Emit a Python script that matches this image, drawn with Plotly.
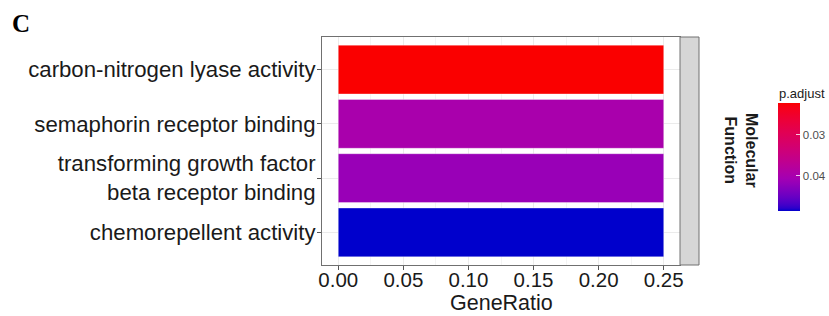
import numpy as np
import plotly.graph_objects as go

# ---- data ----
terms = [
    "carbon-nitrogen lyase activity",
    "semaphorin receptor binding",
    "transforming growth factor<br>beta receptor binding",
    "chemorepellent activity",
]
gene_ratio = [0.25, 0.25, 0.25, 0.25]
p_adjust = [0.0222, 0.0400, 0.0416, 0.0487]
x_ticks = [0.00, 0.05, 0.10, 0.15, 0.20, 0.25]
cb_ticks = [0.03, 0.04]
facet_label = "Molecular<br>Function"

# ---- colour scale (Lab interpolation red -> blue, like ggplot) ----
def srgb_to_lab(rgb):
    c = np.array(rgb, float) / 255.0
    lin = np.where(c <= 0.04045, c / 12.92, ((c + 0.055) / 1.055) ** 2.4)
    M = np.array([[0.4124, 0.3576, 0.1805], [0.2126, 0.7152, 0.0722], [0.0193, 0.1192, 0.9505]])
    xyz = M @ lin / np.array([0.9505, 1.0, 1.089])
    f = np.where(xyz > 0.008856, np.cbrt(xyz), 7.787 * xyz + 16 / 116)
    return np.array([116 * f[1] - 16, 500 * (f[0] - f[1]), 200 * (f[1] - f[2])])

def lab_to_srgb(lab, k=1.0):
    L, a, b = lab
    fy = (L + 16) / 116
    fx = fy + a / 500
    fz = fy - b / 200
    f = np.array([fx, fy, fz])
    xyz = np.where(f ** 3 > 0.008856, f ** 3, (f - 16 / 116) / 7.787) * np.array([0.9505, 1.0, 1.089])
    Mi = np.array([[3.2406, -1.5372, -0.4986], [-0.9689, 1.8758, 0.0415], [0.0557, -0.2040, 1.0570]])
    lin = np.clip(Mi @ xyz, 0, 1)
    c = np.where(lin <= 0.0031308, 12.92 * lin, 1.055 * lin ** (1 / 2.4) - 0.055)
    r, g, bb = (np.clip(c * k, 0, 1) * 255).round().astype(int)
    return f"rgb({r},{g},{bb})"

red_lab = srgb_to_lab((255, 0, 0))
blue_lab = srgb_to_lab((0, 0, 255))

def shade(t_from_red):
    # slight darkening seen towards the blue end of the picture
    if t_from_red < 0.7:
        return 0.98
    return 0.98 - (t_from_red - 0.7) / 0.3 * 0.18

# colour axis uses -p so that red sits at the top of the colour bar
stops = np.linspace(0, 1, 41)
colorscale = []
for s in stops:
    t = 1 - s  # distance from red end
    lab = red_lab + (blue_lab - red_lab) * t
    colorscale.append([float(s), lab_to_srgb(lab, shade(t))])

W, H = 829, 316
L_M, R_M, T_M, B_M = 322, 829 - 680, 37, 316 - 265
PW = W - L_M - R_M
PH = H - T_M - B_M

def px(xpix):
    return (xpix - L_M) / PW

def py(ypix):
    return (H - B_M - ypix) / PH

fig = go.Figure()
fig.add_trace(go.Bar(
    x=gene_ratio, y=terms, orientation="h",
    marker=dict(
        color=[-p for p in p_adjust],
        colorscale=colorscale,
        cmin=-max(p_adjust), cmax=-min(p_adjust),
        line=dict(width=0.6, color="rgba(255,255,255,0.6)"),
        colorbar=dict(
            thickness=22, thicknessmode="pixels",
            len=108, lenmode="pixels",
            x=px(777.5), xanchor="left",
            y=py(157.2), yanchor="middle",
            outlinewidth=0,
            tickvals=[-t for t in cb_ticks], ticktext=[f"{t:.2f}" for t in cb_ticks],
            ticks="inside", ticklen=4, tickcolor="rgba(255,255,255,0.8)", tickwidth=1,
            tickfont=dict(size=11.5, color="#4d4d4d", family="Liberation Sans, Arial"),
            ypad=0, xpad=0,
        ),
    ),
    hoverinfo="x+y",
))

fig.update_layout(
    width=W, height=H,
    template="none",
    paper_bgcolor="white", plot_bgcolor="white",
    margin=dict(l=L_M, r=R_M, t=T_M, b=B_M, autoexpand=False),
    bargap=0.1,
    showlegend=False,
    font=dict(family="Liberation Sans, Arial", color="#1a1a1a"),
    xaxis=dict(
        range=[-0.0125, 0.2625],
        tickvals=x_ticks, tickformat=".2f",
        tickfont=dict(size=20.5, color="#1a1a1a"),
        ticks="outside", ticklen=4, tickcolor="#555", tickwidth=1,
        ticklabelstandoff=-8,
        showgrid=True, gridcolor="#ebebeb", gridwidth=1,
        minor=dict(tickvals=[0.025, 0.075, 0.125, 0.175, 0.225], showgrid=True, gridcolor="#f4f4f4", gridwidth=0.6, ticks=""),
        zeroline=False,
        showline=True, mirror=True, linecolor="#707070", linewidth=1,
        automargin=False,
    ),
    yaxis=dict(
        categoryorder="array", categoryarray=terms[::-1],
        range=[-0.6, 3.6],
        tickfont=dict(size=22.2, color="#1a1a1a"),
        ticks="outside", ticklen=4, tickcolor="#555", tickwidth=1,
        ticklabelstandoff=-3,
        showgrid=True, gridcolor="#ebebeb", gridwidth=1,
        zeroline=False,
        showline=True, mirror=True, linecolor="#707070", linewidth=1,
        automargin=False,
    ),
)

# x axis title
fig.add_annotation(text="GeneRatio", xref="paper", yref="paper",
                   x=0.5, y=py(302.5), xanchor="center", yanchor="middle", showarrow=False,
                   font=dict(size=21.5, color="#1a1a1a", family="Liberation Sans, Arial"))

# facet strip on the right of the panel
fig.add_shape(type="rect", xref="x domain", yref="y domain",
              x0=1.0, x1=1.0 + 19.0 / PW, y0=0, y1=1,
              fillcolor="#d6d6d6", line=dict(color="#707070", width=1), layer="above")

fig.add_annotation(text="<b>" + facet_label + "</b>", xref="paper", yref="paper",
                   x=px(762), y=py(150), showarrow=False, textangle=90,
                   font=dict(size=16, color="#1a1a1a", family="Liberation Sans, Arial"),
                   align="center")

# colour bar title
fig.add_annotation(text="p.adjust", xref="paper", yref="paper",
                   x=px(776.5), y=py(93), xanchor="left", yanchor="middle", showarrow=False,
                   font=dict(size=13, color="#1a1a1a", family="Liberation Sans, Arial"))

fig.add_annotation(text="<b>C</b>", xref="paper", yref="paper",
                   x=px(10), y=py(24), xanchor="left", yanchor="middle", showarrow=False,
                   font=dict(size=25, color="black", family="Liberation Serif, Times New Roman"))

fig.write_html("out.html", config={"displayModeBar": False},
               post_script="document.body.style.margin='0';")
